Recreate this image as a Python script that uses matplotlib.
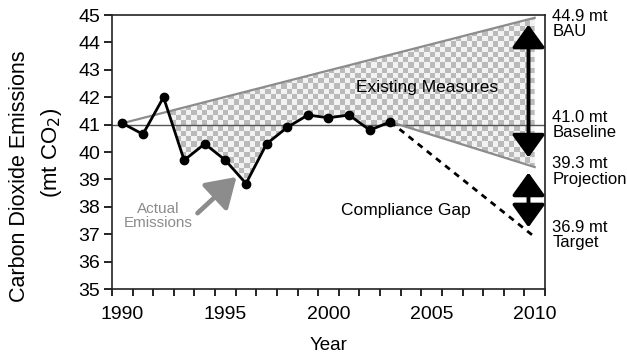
import matplotlib
matplotlib.use("Agg")
import matplotlib.pyplot as plt
import numpy as np

plt.rcParams["font.family"] = ["Liberation Sans", "DejaVu Sans"]

# actual emissions (mt CO2)
years = [1990, 1991, 1992, 1993, 1994, 1995, 1996, 1997, 1998, 1999, 2000, 2001, 2002, 2003]
actual = [41.05, 40.65, 42.0, 39.7, 40.3, 39.7, 38.85, 40.3, 40.9, 41.35, 41.25, 41.35, 40.8, 41.1]

baseline = 41.0
bau_x = [1990, 2010]
bau_y = [41.05, 44.9]
proj_x = [2003, 2010]
proj_y = [41.1, 39.45]
target_x = [2003, 2010]
target_y = [41.1, 36.9]

right_labels = ["44.9 mt\nBAU", "41.0 mt\nBaseline", "39.3 mt\nProjection", "36.9 mt\nTarget"]
right_label_y = [44.67, 40.99, 39.29, 36.97]

GRAY = "#8c8c8c"

fig = plt.figure(figsize=(6.27, 3.58), dpi=100)
ax = fig.add_axes([0.1786, 0.1927, 0.6906, 0.7653])
ax.set_xlim(1989.5, 2010.5)
ax.set_ylim(35, 45)

# checkered area between BAU and actual/projection
lo_x = np.array(years + [proj_x[1]], dtype=float)
lo_y = np.array(actual + [proj_y[1]])
up_y = np.interp(lo_x, bau_x, bau_y)
poly = ax.fill_between(lo_x, lo_y, up_y, where=(lo_x >= 1992) & (lo_y < up_y),
                       interpolate=True, facecolor="none", edgecolor="none")
nx, ny = 82, 52
board = (np.add.outer(np.arange(ny), np.arange(nx)) % 2).astype(float)
img = ax.imshow(board, cmap=matplotlib.colors.ListedColormap(["#f2f2f2", "#bababa"]),
                extent=(1989.5, 2010.5, 35, 45), aspect="auto",
                interpolation="nearest", zorder=1)
img.set_clip_path(poly.get_paths()[0], transform=ax.transData)

ax.axhline(baseline, color="#555555", lw=1.0, zorder=2)
ax.plot(bau_x, bau_y, color=GRAY, lw=1.6, zorder=2)
ax.plot(proj_x, proj_y, color=GRAY, lw=1.6, zorder=2)
ax.plot(target_x, target_y, color="black", lw=2.0, ls=(0, (2.2, 2.0)), zorder=3)
ax.plot(years, actual, color="black", lw=2.0, marker="o", ms=6, zorder=4)

# double arrows
for y0, y1 in [(39.8, 44.65), (37.25, 39.25)]:
    ax.annotate("", xy=(2009.7, y1), xytext=(2009.7, y0),
                arrowprops=dict(arrowstyle="<|-|>,head_width=0.72,head_length=1.0",
                                mutation_scale=14, lw=2.8, color="black",
                                shrinkA=0, shrinkB=0), zorder=5)

ax.annotate("", xy=(1995.54, 39.09), xytext=(1993.65, 37.77),
            arrowprops=dict(arrowstyle="-|>,head_width=0.7,head_length=1.1",
                            mutation_scale=16, lw=3.4, color=GRAY,
                            shrinkA=0, shrinkB=0), zorder=5)

ax.text(2004.77, 42.37, "Existing Measures", fontsize=12.5, ha="center", va="center", zorder=6)
ax.text(2003.75, 37.88, "Compliance Gap", fontsize=12.5, ha="center", va="center")
ax.text(1991.72, 37.66, "Actual\nEmissions", fontsize=11, color=GRAY,
        ha="center", va="center", linespacing=1.05)

for lab, y in zip(right_labels, right_label_y):
    ax.text(2010.85, y, lab, fontsize=12, ha="left", va="center",
            linespacing=1.05, clip_on=False)

ax.set_xticks([1990, 1995, 2000, 2005, 2010])
ax.set_xticks(np.arange(1989.5, 2011, 1), minor=True)
ax.set_yticks(range(35, 46))
ax.tick_params(axis="x", which="major", length=0, labelsize=14, pad=12)
ax.tick_params(axis="x", which="minor", length=5, width=1.2, direction="out")
ax.tick_params(axis="y", length=5.5, width=1.2, labelsize=14, pad=3)
for s in ax.spines.values():
    s.set_linewidth(1.2)
    s.set_color("#222222")

ax.set_xlabel("Year", fontsize=13.5, labelpad=10)
fig.text(19.5 / 627, 1 - 176 / 358, "Carbon Dioxide Emissions", rotation=90,
         fontsize=15.5, ha="center", va="center")
fig.text(52 / 627, 1 - 153 / 358, "(mt CO$_2$)", rotation=90,
         fontsize=16, ha="center", va="center")

fig.savefig("out.png", dpi=100)
